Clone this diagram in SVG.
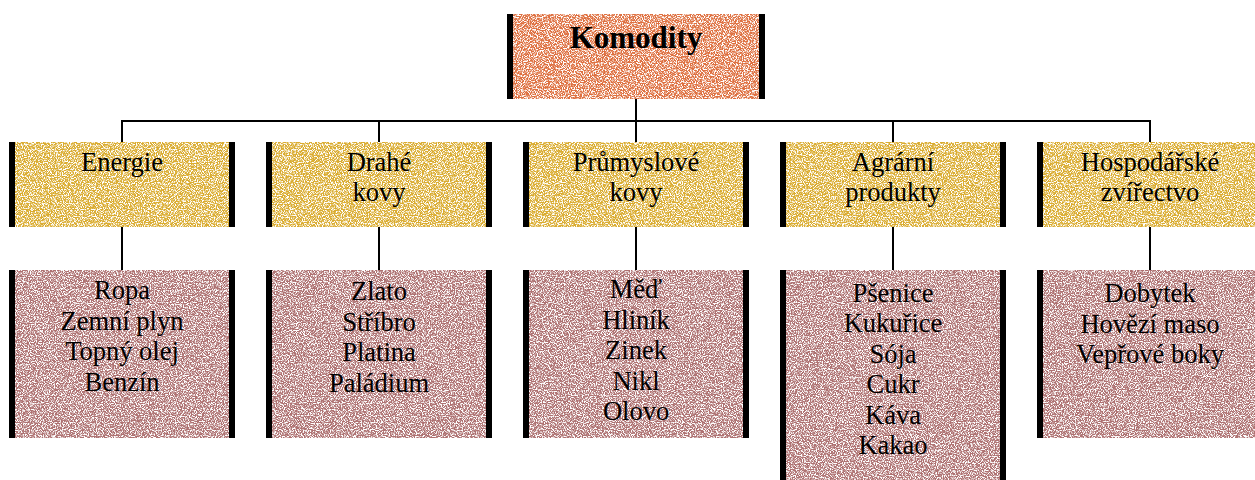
<svg xmlns="http://www.w3.org/2000/svg" width="1255" height="480" viewBox="0 0 1255 480">
<style>
text{font-family:"Liberation Serif","Times New Roman",serif;fill:#000;text-anchor:middle}
.t{font-size:26.5px}
.top{font-size:31px;font-weight:bold}
.bar{fill:#000}
.c{stroke:#000;stroke-width:2;fill:none}
.or{fill:#DE7040}
.ye{fill:#DAAC30}
.pk{fill:#AE7272}
</style>
<defs>
<filter id="spk" x="0" y="0" width="1" height="1" color-interpolation-filters="sRGB">
<feTurbulence type="fractalNoise" baseFrequency="0.85" numOctaves="2" seed="7" result="n"/>
<feColorMatrix in="n" type="matrix" values="0 0 0 0 1  0 0 0 0 1  0 0 0 0 1  5 0 0 0 -2.2" result="w"/>
<feComposite in="w" in2="SourceGraphic" operator="atop"/>
</filter>
</defs>
<rect width="1255" height="480" fill="#fff"/>
<g id="connectors">
<line class="c" x1="636" y1="99" x2="636" y2="121"/>
<line class="c" x1="121" y1="121" x2="1151" y2="121"/>
<line class="c" x1="122" y1="121" x2="122" y2="142"/>
<line class="c" x1="379" y1="121" x2="379" y2="142"/>
<line class="c" x1="636" y1="121" x2="636" y2="142"/>
<line class="c" x1="893" y1="121" x2="893" y2="142"/>
<line class="c" x1="1150" y1="120" x2="1150" y2="142"/>
<line class="c" x1="122" y1="227" x2="122" y2="270"/>
<line class="c" x1="379" y1="227" x2="379" y2="270"/>
<line class="c" x1="636" y1="227" x2="636" y2="270"/>
<line class="c" x1="893" y1="227" x2="893" y2="270"/>
<line class="c" x1="1150" y1="227" x2="1150" y2="270"/>
</g>
<g id="komodity">
<rect class="or" x="507" y="14" width="258" height="85" filter="url(#spk)"/>
<rect class="bar" x="507" y="14" width="6" height="85"/>
<rect class="bar" x="759" y="14" width="6" height="85"/>
<text class="top" x="636" y="48">Komodity</text>
</g>
<g id="energie">
<rect class="ye" x="9" y="142" width="226" height="85" filter="url(#spk)"/>
<rect class="bar" x="9" y="142" width="6" height="85"/>
<rect class="bar" x="229" y="142" width="6" height="85"/>
<text class="t" x="122" y="171">Energie</text>
</g>
<g id="drahe-kovy">
<rect class="ye" x="266" y="142" width="226" height="85" filter="url(#spk)"/>
<rect class="bar" x="266" y="142" width="6" height="85"/>
<rect class="bar" x="486" y="142" width="6" height="85"/>
<text class="t" x="379" y="171">Drahé</text>
<text class="t" x="379" y="201">kovy</text>
</g>
<g id="prumyslove-kovy">
<rect class="ye" x="523" y="142" width="226" height="85" filter="url(#spk)"/>
<rect class="bar" x="523" y="142" width="6" height="85"/>
<rect class="bar" x="743" y="142" width="6" height="85"/>
<text class="t" x="636" y="171">Průmyslové</text>
<text class="t" x="636" y="201">kovy</text>
</g>
<g id="agrarni-produkty">
<rect class="ye" x="780" y="142" width="226" height="85" filter="url(#spk)"/>
<rect class="bar" x="780" y="142" width="6" height="85"/>
<rect class="bar" x="1000" y="142" width="6" height="85"/>
<text class="t" x="893" y="171">Agrární</text>
<text class="t" x="893" y="201">produkty</text>
</g>
<g id="hospodarske-zvirectvo">
<rect class="ye" x="1037" y="142" width="226" height="85" filter="url(#spk)"/>
<rect class="bar" x="1037" y="142" width="6" height="85"/>
<rect class="bar" x="1257" y="142" width="6" height="85"/>
<text class="t" x="1150" y="171">Hospodářské</text>
<text class="t" x="1150" y="201">zvířectvo</text>
</g>
<g id="energie-list">
<rect class="pk" x="9" y="270" width="226" height="168" filter="url(#spk)"/>
<rect class="bar" x="9" y="270" width="6" height="168"/>
<rect class="bar" x="229" y="270" width="6" height="168"/>
<text class="t" x="122" y="299">Ropa</text>
<text class="t" x="122" y="329.5">Zemní plyn</text>
<text class="t" x="122" y="360">Topný olej</text>
<text class="t" x="122" y="390.5">Benzín</text>
</g>
<g id="drahe-kovy-list">
<rect class="pk" x="266" y="270" width="226" height="168" filter="url(#spk)"/>
<rect class="bar" x="266" y="270" width="6" height="168"/>
<rect class="bar" x="486" y="270" width="6" height="168"/>
<text class="t" x="379" y="300">Zlato</text>
<text class="t" x="379" y="330.5">Stříbro</text>
<text class="t" x="379" y="361">Platina</text>
<text class="t" x="379" y="391.5">Paládium</text>
</g>
<g id="prumyslove-kovy-list">
<rect class="pk" x="523" y="270" width="226" height="168" filter="url(#spk)"/>
<rect class="bar" x="523" y="270" width="6" height="168"/>
<rect class="bar" x="743" y="270" width="6" height="168"/>
<text class="t" x="636" y="298">Měď</text>
<text class="t" x="636" y="328.5">Hliník</text>
<text class="t" x="636" y="359">Zinek</text>
<text class="t" x="636" y="389.5">Nikl</text>
<text class="t" x="636" y="420">Olovo</text>
</g>
<g id="agrarni-produkty-list">
<rect class="pk" x="780" y="270" width="226" height="215" filter="url(#spk)"/>
<rect class="bar" x="780" y="270" width="6" height="215"/>
<rect class="bar" x="1000" y="270" width="6" height="215"/>
<text class="t" x="893" y="301.5">Pšenice</text>
<text class="t" x="893" y="332">Kukuřice</text>
<text class="t" x="893" y="362.5">Sója</text>
<text class="t" x="893" y="393">Cukr</text>
<text class="t" x="893" y="423.5">Káva</text>
<text class="t" x="893" y="454">Kakao</text>
</g>
<g id="hospodarske-zvirectvo-list">
<rect class="pk" x="1037" y="270" width="226" height="168" filter="url(#spk)"/>
<rect class="bar" x="1037" y="270" width="6" height="168"/>
<rect class="bar" x="1257" y="270" width="6" height="168"/>
<text class="t" x="1150" y="302">Dobytek</text>
<text class="t" x="1150" y="332.5">Hovězí maso</text>
<text class="t" x="1150" y="363">Vepřové boky</text>
</g>
</svg>
